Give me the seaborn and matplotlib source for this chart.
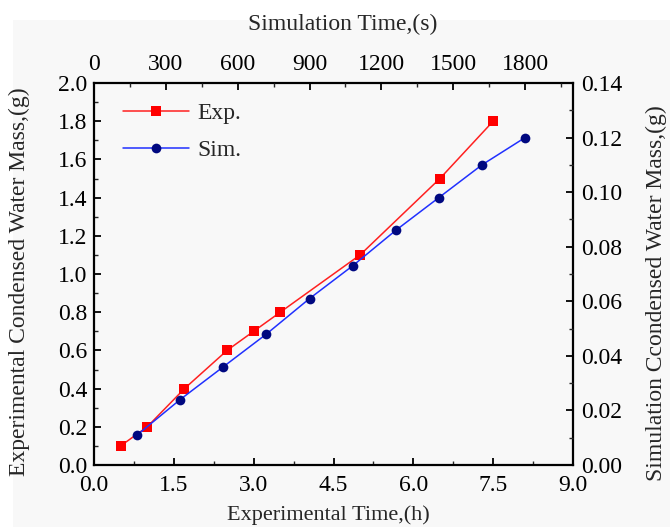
import matplotlib
matplotlib.use("Agg")
import matplotlib.pyplot as plt
import seaborn as sns
import pandas as pd
from matplotlib.ticker import MultipleLocator
from matplotlib.patches import Rectangle

# Data
exp_time_h = [0.5, 1.0, 1.7, 2.5, 3.0, 3.5, 5.0, 6.5, 7.5]
exp_mass_g = [0.1, 0.2, 0.4, 0.6, 0.7, 0.8, 1.1, 1.5, 1.8]
sim_time_s = [180, 360, 540, 720, 900, 1080, 1260, 1440, 1620, 1800]
sim_mass_g = [0.011, 0.024, 0.036, 0.048, 0.061, 0.073, 0.086, 0.098, 0.110, 0.120]
x_ticks_h = [0.0, 1.5, 3.0, 4.5, 6.0, 7.5, 9.0]
x_ticks_s = [0, 300, 600, 900, 1200, 1500, 1800]
y_ticks_left = [0.0, 0.2, 0.4, 0.6, 0.8, 1.0, 1.2, 1.4, 1.6, 1.8, 2.0]
y_ticks_right = [0.00, 0.02, 0.04, 0.06, 0.08, 0.10, 0.12, 0.14]

sns.set_theme(style="white")
plt.rcParams['font.family'] = ['Liberation Serif', 'DejaVu Serif']

bg = '#f8f8f8'
fig = plt.figure(figsize=(6.7, 5.27), dpi=100, facecolor='white')
fig.patches.append(Rectangle((13/670, 0), 1, 1 - 20/527, transform=fig.transFigure,
                             facecolor=bg, edgecolor='none', zorder=-10))
W, H = 670, 527
L, R, T, B = 94, 573, 83, 465
pos = [L/W, 1 - B/H, (R - L)/W, (B - T)/H]
ax = fig.add_axes(pos, facecolor=bg)
ax2 = fig.add_axes(pos, facecolor='none')

df_exp = pd.DataFrame({'t': exp_time_h, 'm': exp_mass_g})
df_sim = pd.DataFrame({'t': sim_time_s, 'm': sim_mass_g})

sns.lineplot(data=df_exp, x='t', y='m', ax=ax, color='#ff2020', lw=1.1,
             marker='s', markersize=6.5, markeredgewidth=0, markerfacecolor='#ff0000',
             label='Exp.', legend=False)
sns.lineplot(data=df_sim, x='t', y='m', ax=ax2, color='#2030ff', lw=1.1,
             marker='o', markersize=7, markeredgewidth=0, markerfacecolor='#000880',
             label='Sim.', legend=False)

fs = 17
ax.set_xlim(0, 9)
ax.set_ylim(0, 2.0)
ax.set_xticks(x_ticks_h)
ax.set_xticklabels([f'{v:.1f}' for v in x_ticks_h])
ax.set_yticks(y_ticks_left)
ax.set_yticklabels([f'{v:.1f}' for v in y_ticks_left])
ax.xaxis.set_minor_locator(MultipleLocator(0.75))
ax.yaxis.set_minor_locator(MultipleLocator(0.1))
ax.tick_params(axis='x', which='major', pad=7)
ax.tick_params(axis='y', which='major', pad=5)
ax.tick_params(axis='both', which='major', direction='in', length=5, width=1.3,
               labelsize=fs, colors='black', bottom=True, left=True, top=False, right=False)
ax.tick_params(axis='both', which='minor', direction='in', length=3, width=1.0,
               bottom=True, left=True, top=False, right=False)
ax.set_xlabel('Experimental Time,(h)', fontsize=16)
ax.xaxis.set_label_coords(0.49, -0.105)
ax.set_ylabel('Experimental Condensed Water Mass,(g)', fontsize=17)
ax.yaxis.set_label_coords(-0.134, 0.48)

ax2.set_xlim(0, 2000)
ax2.set_ylim(0, 0.14)
ax2.xaxis.tick_top()
ax2.xaxis.set_label_position('top')
ax2.yaxis.tick_right()
ax2.yaxis.set_label_position('right')
ax2.set_xticks(x_ticks_s)
ax2.set_xticklabels([str(v) for v in x_ticks_s])
ax2.set_yticks(y_ticks_right)
ax2.set_yticklabels([f'{v:.2f}' for v in y_ticks_right])
ax2.xaxis.set_minor_locator(MultipleLocator(150))
ax2.yaxis.set_minor_locator(MultipleLocator(0.01))
ax2.tick_params(axis='x', which='major', pad=6)
ax2.tick_params(axis='y', which='major', pad=6)
ax2.tick_params(axis='both', which='major', direction='in', length=5, width=1.3,
                labelsize=fs, colors='black', top=True, right=True, bottom=False, left=False)
ax2.tick_params(axis='both', which='minor', direction='in', length=3, width=1.0,
                top=True, right=True, bottom=False, left=False)
ax2.set_xlabel('Simulation Time,(s)', fontsize=17)
ax2.xaxis.set_label_coords(0.52, 1.139)
ax2.set_ylabel('Simulation Ccondensed Water Mass,(g)', fontsize=17)
ax2.yaxis.set_label_coords(1.152, 0.45)
for s in ax2.spines.values():
    s.set_visible(False)

for s in ax.spines.values():
    s.set_visible(True)
    s.set_color('black')
    s.set_linewidth(1.6)

h1, l1 = ax.get_legend_handles_labels()
h2, l2 = ax2.get_legend_handles_labels()
ax.legend(h1 + h2, l1 + l2, loc='upper left', bbox_to_anchor=(0.061, 0.949),
          frameon=False, fontsize=17, handlelength=2.8, handletextpad=0.35,
          borderpad=0, borderaxespad=0, labelspacing=0.67)

fig.savefig('out.png', dpi=100, facecolor='white')
